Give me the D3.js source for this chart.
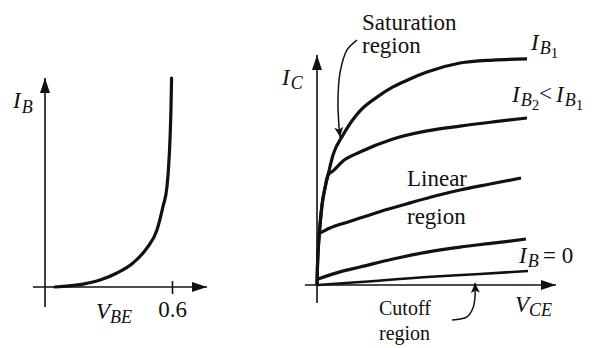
<!DOCTYPE html>
<html><head><meta charset="utf-8">
<script src="https://cdn.jsdelivr.net/npm/d3@7"></script>
<style>
html,body{margin:0;padding:0;background:#fff;}
</style></head>
<body><svg id="chart" width="594" height="348"></svg>
<script>
// ---- data (left: input characteristic, V_BE in volts, I_B normalised) ----
const vbe = [0.047,0.18,0.26,0.34,0.416,0.482,0.529,0.557,0.576,0.583,0.591,0.595,0.598];
const ib  = [0,0.014,0.033,0.067,0.115,0.187,0.273,0.383,0.478,0.56,0.718,0.847,1.0];
const vbeTicks = [0.6];

// ---- data (right: output characteristics, V_CE and I_C in arbitrary units) ----
const steepV = [0,0.024,0.071,0.142,0.236,0.377,0.519];
const steepI = [0,0.87,1.74,2.61,3.48,4.22,4.78];
const ib1V = [0.755,1.226,2.028,2.83,3.585,4.387,5.189,6.745,8.302,9.906];
const ib1I = [5.65,6.52,7.57,8.17,8.61,8.96,9.26,9.65,9.78,9.83];
const ib2V = [0.755,1.226,2.028,3.585,5.189,6.745,8.302,9.906];
const ib2I = [4.96,5.39,5.78,6.35,6.70,6.91,7.09,7.26];
const ib3V = [0.142,0.613,1.321,2.028,3.208,4.387,5.566,6.745,8.16,9.623];
const ib3I = [2.26,2.48,2.70,2.91,3.26,3.57,3.87,4.13,4.39,4.65];
const ib4V = [0.047,1.085,2.028,3.585,5.189,6.745,8.396,9.858];
const ib4I = [0.26,0.57,0.78,1.13,1.43,1.65,1.83,2.0];
const ib0V = [0.047,2.028,5.189,7.689,9.953];
const ib0I = [0,0.13,0.35,0.48,0.61];

// annotation arrows (data units of right plot)
const satArrowV = [1.887,1.415,1.085,0.99,1.038,1.085];
const satArrowI = [10.65,10.22,9.22,8.04,6.87,6.43];
const cutArrowV = [6.368,7.075,7.358,7.453,7.453];
const cutArrowI = [-1.52,-1.39,-1.0,-0.52,0.087];

const zip = (a,b) => a.map((v,i)=>[v,b[i]]);
const FONT = "'Liberation Serif','Times New Roman','DejaVu Serif',serif";

const svg = d3.select("#chart");
const defs = svg.append("defs");
defs.append("marker").attr("id","axArrow").attr("markerUnits","userSpaceOnUse")
  .attr("viewBox","0 -6 16 12").attr("refX",15).attr("refY",0)
  .attr("markerWidth",16).attr("markerHeight",12).attr("orient","auto")
  .append("path").attr("d","M0,-5L15,0L0,5Z").attr("fill","#111");
defs.append("marker").attr("id","annArrow").attr("markerUnits","userSpaceOnUse")
  .attr("viewBox","0 -5 11 10").attr("refX",10).attr("refY",0)
  .attr("markerWidth",11).attr("markerHeight",10).attr("orient","auto")
  .append("path").attr("d","M0,-4.5L10,0L0,4.5L2.5,0Z").attr("fill","#111");

// ---------- left plot ----------
const xL = d3.scaleLinear().domain([0,0.6]).range([45,172]);
const yL = d3.scaleLinear().domain([0,1]).range([287,78]);
const gL = svg.append("g");
gL.append("line").attr("x1",xL(-0.057)).attr("x2",xL(0.765)).attr("y1",yL(0)).attr("y2",yL(0))
  .attr("stroke","#111").attr("stroke-width",1.6).attr("marker-end","url(#axArrow)");
gL.append("line").attr("x1",xL(0)).attr("x2",xL(0)).attr("y1",yL(-0.096)).attr("y2",yL(1.0))
  .attr("stroke","#111").attr("stroke-width",1.6).attr("marker-end","url(#axArrow)");
const axL = gL.append("g").attr("transform",`translate(0,${yL(0)})`)
  .call(d3.axisBottom(xL).tickValues(vbeTicks).tickFormat(d3.format(".1f")).tickSize(7));
axL.attr("font-family",FONT).attr("font-size",23);
axL.select(".domain").remove();
axL.selectAll(".tick line").attr("y1",-6).attr("y2",7).attr("stroke","#111").attr("stroke-width",1.6);
axL.selectAll(".tick text").attr("y",30).attr("dy",0).attr("font-size",23)
  .attr("font-family",FONT).attr("fill","#111");
gL.append("path").attr("d", d3.line().x(d=>xL(d[0])).y(d=>yL(d[1])).curve(d3.curveMonotoneX)(zip(vbe,ib)))
  .attr("fill","none").attr("stroke","#111").attr("stroke-width",3.2).attr("stroke-linecap","round");

// ---------- right plot ----------
const xR = d3.scaleLinear().domain([0,10]).range([317,529]);
const yR = d3.scaleLinear().domain([0,10]).range([285,55]);
const gR = svg.append("g");
gR.append("line").attr("x1",xR(-0.57)).attr("x2",xR(11.27)).attr("y1",yR(0)).attr("y2",yR(0))
  .attr("stroke","#111").attr("stroke-width",1.6).attr("marker-end","url(#axArrow)");
gR.append("line").attr("x1",xR(0)).attr("x2",xR(0)).attr("y1",yR(-0.78)).attr("y2",yR(10.0))
  .attr("stroke","#111").attr("stroke-width",1.6).attr("marker-end","url(#axArrow)");

const lineR = d3.line().x(d=>xR(d[0])).y(d=>yR(d[1])).curve(d3.curveMonotoneX);
const curves = [
  zip(steepV.concat(ib1V), steepI.concat(ib1I)),
  zip(steepV.concat(ib2V), steepI.concat(ib2I)),
  zip(ib3V, ib3I),
  zip(ib4V, ib4I),
  zip(ib0V, ib0I)
];
gR.selectAll("path.curve").data(curves).join("path").attr("class","curve")
  .attr("d", lineR).attr("fill","none").attr("stroke","#111")
  .attr("stroke-width",(d,i)=> i===4 ? 2.6 : 3.2).attr("stroke-linecap","butt");

const arrowLine = d3.line().x(d=>xR(d[0])).y(d=>yR(d[1])).curve(d3.curveCatmullRom.alpha(0.5));
gR.append("path").attr("d", arrowLine(zip(satArrowV,satArrowI)))
  .attr("fill","none").attr("stroke","#111").attr("stroke-width",1.5).attr("marker-end","url(#annArrow)");
gR.append("path").attr("d", arrowLine(zip(cutArrowV,cutArrowI)))
  .attr("fill","none").attr("stroke","#111").attr("stroke-width",1.5).attr("marker-end","url(#annArrow)");

// ---------- text ----------
function label(x, y, parts, fs){
  const t = svg.append("text").attr("x",x).attr("y",y).attr("font-size",fs||23)
    .attr("font-family",FONT).attr("fill","#111");
  parts.forEach(p=>{
    const s = t.append("tspan").text(p.t);
    if(p.i) s.attr("font-style","italic");
    if(p.fs) s.attr("font-size",p.fs);
    if(p.dy) s.attr("dy",p.dy);
    if(p.dx) s.attr("dx",p.dx);
  });
  return t;
}
label(13,108,[{t:"I",i:1},{t:"B",i:1,fs:18,dy:5,dx:1}]);
label(96,319,[{t:"V",i:1},{t:"BE",i:1,fs:18,dy:4}]);
label(282,85,[{t:"I",i:1},{t:"C",i:1,fs:18,dy:4,dx:1}]);
label(362,30,[{t:"Saturation"}]);
label(362,53,[{t:"region"}]);
label(531,50,[{t:"I",i:1},{t:"B",i:1,fs:18,dy:4,dx:1},{t:"1",fs:15,dy:4}]);
label(512,102,[{t:"I",i:1},{t:"B",i:1,fs:18,dy:4,dx:1},{t:"2",fs:15,dy:4}]);
label(539,101,[{t:"<"}]);
label(556,102,[{t:"I",i:1},{t:"B",i:1,fs:18,dy:4,dx:1},{t:"1",fs:15,dy:4}]);
label(407,186,[{t:"Linear"}]);
label(407,224,[{t:"region"}]);
label(519,263,[{t:"I",i:1},{t:"B",i:1,fs:18,dy:4,dx:1}]);
label(543,263,[{t:"= 0"}]);
label(515,312,[{t:"V",i:1},{t:"CE",i:1,fs:18,dy:4}]);
label(379,315,[{t:"Cutoff"}],20);
label(379,340,[{t:"region"}],20);
</script></body></html>
